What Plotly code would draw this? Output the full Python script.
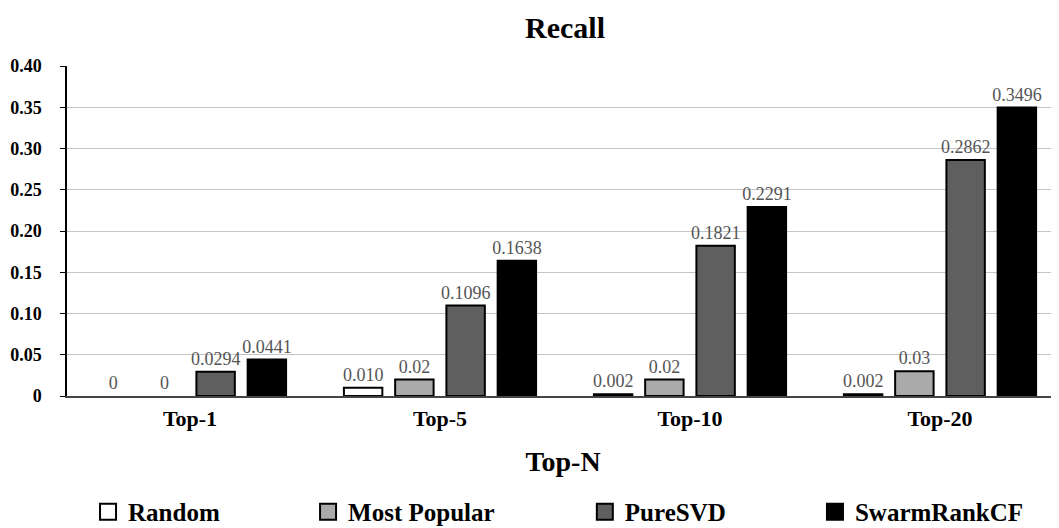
import plotly.graph_objects as go

categories = ["Top-1", "Top-5", "Top-10", "Top-20"]
series_names = ["Random", "Most Popular", "PureSVD", "SwarmRankCF"]
random_vals = [0, 0.010, 0.002, 0.002]
popular_vals = [0, 0.02, 0.02, 0.03]
puresvd_vals = [0.0294, 0.1096, 0.1821, 0.2862]
swarm_vals = [0.0441, 0.1638, 0.2291, 0.3496]
random_text = ["0", "0.010", "0.002", "0.002"]
popular_text = ["0", "0.02", "0.02", "0.03"]
puresvd_text = ["0.0294", "0.1096", "0.1821", "0.2862"]
swarm_text = ["0.0441", "0.1638", "0.2291", "0.3496"]
y_ticks = [0, 0.05, 0.10, 0.15, 0.20, 0.25, 0.30, 0.35, 0.40]
y_tick_text = ["0", "0.05", "0.10", "0.15", "0.20", "0.25", "0.30", "0.35", "0.40"]

colors = ["#ffffff", "#aaaaaa", "#5f5f5f", "#000000"]
all_vals = [random_vals, popular_vals, puresvd_vals, swarm_vals]
all_text = [random_text, popular_text, puresvd_text, swarm_text]
legend_ids = ["legend", "legend2", "legend3", "legend4"]
legend_x = [0.0212, 0.243, 0.522, 0.754]

serif = "Liberation Serif, Times New Roman, serif"

fig = go.Figure()
for name, vals, txt, col, lid in zip(series_names, all_vals, all_text, colors, legend_ids):
    line_w = [0 if v == 0 else 2 for v in vals]
    fig.add_trace(go.Bar(
        name=name, x=categories, y=vals, text=txt, offsetgroup=name,
        textposition="outside", cliponaxis=False, constraintext="none",
        textfont=dict(family=serif, size=18, color="#555555"),
        marker=dict(color=col, line=dict(color="#000000", width=line_w)),
        showlegend=False,
    ))
    # legend entry only
    fig.add_trace(go.Scatter(
        name="<b>%s</b>" % name, x=[None], y=[None], mode="markers",
        marker=dict(symbol="square", size=16, color=col, line=dict(color="#000000", width=2)),
        showlegend=True, hoverinfo="skip", legend=lid,
    ))

legend_common = dict(
    orientation="h", xanchor="left", y=-0.3515, yanchor="middle",
    font=dict(family=serif, size=25, color="#000"), bgcolor="rgba(0,0,0,0)",
)

fig.update_layout(
    width=1051, height=520,
    paper_bgcolor="white", plot_bgcolor="white",
    margin=dict(l=59, r=0, t=58, b=132, autoexpand=False),
    barmode="group", bargap=0.18, bargroupgap=0.25,
    title=dict(text="<b>Recall</b>", x=(565 - 8) / 1051, xanchor="center", y=0.962, yanchor="middle",
               font=dict(family=serif, size=30, color="#000")),
    xaxis=dict(
        title=dict(text="<b>Top-N</b>", font=dict(family=serif, size=28, color="#000"), standoff=21),
        tickfont=dict(family=serif, size=22, color="#000"),
        tickvals=categories, ticktext=["<b>%s</b>" % c for c in categories],
        range=[-0.492, 3.476],
        showline=True, linecolor="#444", linewidth=2, ticks="",
        ticklabelstandoff=2, automargin=False,
    ),
    yaxis=dict(
        range=[0, 0.40], tickvals=y_ticks, ticktext=["<b>%s</b>" % t for t in y_tick_text],
        tickfont=dict(family=serif, size=18, color="#000"),
        showgrid=True, gridcolor="#c4c4c4", gridwidth=1,
        showline=True, linecolor="#000", linewidth=1.5,
        ticks="outside", ticklen=5, tickcolor="#000", zeroline=False,
        ticklabelstandoff=15, automargin=False,
    ),
    legend=dict(x=legend_x[0], **legend_common),
    legend2=dict(x=legend_x[1], **legend_common),
    legend3=dict(x=legend_x[2], **legend_common),
    legend4=dict(x=legend_x[3], **legend_common),
)

fig.write_html("out.html")
